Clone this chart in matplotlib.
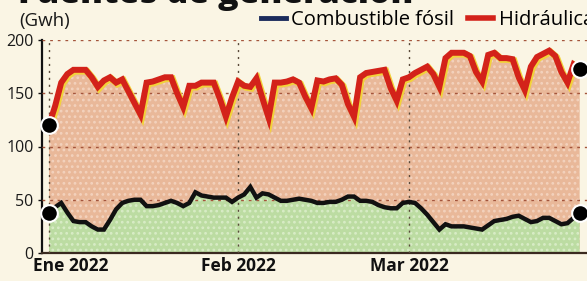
import matplotlib
matplotlib.use('Agg')
import matplotlib.pyplot as plt
from matplotlib.lines import Line2D
from matplotlib.transforms import offset_copy, ScaledTranslation
import pandas as pd

# daily generation, Jan 1 - Mar 29 2022 (GWh)
dates = pd.date_range('2022-01-01', periods=88, freq='D')
fosil = [38, 43, 47, 38, 30, 29, 29, 25, 22, 22,
         31, 41, 47, 49, 50, 50, 44, 44, 45, 47,
         49, 47, 44, 47, 57, 54, 53, 52, 52, 52,
         48, 52, 55, 62, 52, 56, 55, 52, 49, 49,
         50, 51, 50, 49, 47, 47, 48, 48, 50, 53,
         53, 49, 49, 48, 45, 43, 42, 42, 47, 48,
         47, 42, 36, 29, 22, 27, 25, 25, 25, 24,
         23, 22, 26, 30, 31, 32, 34, 35, 32, 29,
         30, 33, 33, 30, 27, 28, 33, 38]
hidraulica = [120, 138, 160, 168, 172, 172, 172, 165, 156, 162,
              165, 160, 163, 152, 141, 130, 160, 161, 163, 165,
              165, 150, 137, 157, 157, 160, 160, 160, 145, 128,
              146, 161, 157, 156, 164, 145, 127, 160, 160, 161,
              163, 160, 147, 136, 162, 161, 163, 164, 158, 140,
              128, 165, 169, 170, 171, 172, 155, 143, 163, 165,
              169, 172, 175, 168, 156, 183, 188, 188, 188, 185,
              170, 161, 186, 188, 183, 183, 182, 165, 153, 175,
              184, 187, 190, 185, 170, 160, 177, 173]
month_ticks = ['2022-01-01', '2022-02-01', '2022-03-01']
month_labels = ['Ene 2022', 'Feb 2022', 'Mar 2022']
yticks = [0, 50, 100, 150, 200]

bg = '#faf5e4'
plt.rcParams['font.family'] = ['Open Sans', 'DejaVu Sans']
plt.rcParams['hatch.linewidth'] = 1.2

fig = plt.figure(figsize=(5.87, 2.81), dpi=100, facecolor=bg)
ax = fig.add_axes([42/587, 28/281, 545/587, 213/281], facecolor=bg)

x = dates
# halftone-ish fills
ax.fill_between(x, 0, hidraulica, facecolor='#e9b899', edgecolor='#f3d2bd',
                hatch='...', lw=0, zorder=1)
ax.fill_between(x, 0, fosil, facecolor='#bcdca2', edgecolor='#d8ecc6',
                hatch='...', lw=0, zorder=2)

# grid
for v in yticks[1:]:
    ax.axhline(v, color='#a4553c', lw=1.0, ls=(0, (2, 3.5)), zorder=3)
for d in month_ticks:
    ax.axvline(pd.Timestamp(d), color='#5a4a3a', lw=1.0, ls=(0, (1.5, 3.5)), zorder=3)

# red line with yellow misregistration
shadow = offset_copy(ax.transData, fig=fig, x=1.3, y=-1.3, units='dots')
ax.plot(x, hidraulica, color='#f2d23a', lw=5, solid_joinstyle='miter',
        transform=shadow, zorder=4)
ax.plot(x, hidraulica, color='#d3221a', lw=4.3, solid_joinstyle='miter', zorder=5)
ax.plot(x, fosil, color='#111111', lw=3.2, solid_joinstyle='miter', zorder=5)

# end dots
for s in (hidraulica, fosil):
    ax.plot([x[0], x[-1]], [s[0], s[-1]], 'o', ms=12, mfc='black',
            mec='white', mew=1.5, zorder=6, clip_on=False)

ax.set_xlim(pd.Timestamp('2022-01-01') - pd.Timedelta(days=1.15),
            pd.Timestamp('2022-01-01') + pd.Timedelta(days=88.2))
ax.set_ylim(0, 200)

for s in ('top', 'right'):
    ax.spines[s].set_visible(False)
ax.spines['left'].set_color('#111111')
ax.spines['left'].set_linewidth(1.6)
ax.spines['bottom'].set_color('#3a2a20')
ax.spines['bottom'].set_linewidth(1.6)

ax.set_yticks(yticks)
ax.set_yticklabels([str(v) for v in yticks])
ax.tick_params(axis='y', length=3, width=1, color='#111111', labelsize=11.5,
               labelcolor='#1a1a1a', pad=3)
ax.set_xticks([pd.Timestamp(d) for d in month_ticks])
ax.set_xticklabels(month_labels, fontweight='bold')
ax.tick_params(axis='x', length=0, labelsize=12.5, labelcolor='#111111', pad=3)
first = ax.get_xticklabels()[0]
first.set_transform(first.get_transform() + ScaledTranslation(22/100, 0, fig.dpi_scale_trans))

# title cut at top, unit, legend
fig.text(18/587, 1 - 3/281, 'Fuentes de generación', fontsize=24.5, fontweight='heavy',
         color='#111111', va='baseline', ha='left')
fig.text(19/587, 1 - 21/281, '(Gwh)', fontsize=13.5, color='#1a1a1a', va='center', ha='left')

handles = [Line2D([], [], color='#1b2b5c', lw=3.5),
           Line2D([], [], color='#d3221a', lw=4)]
fig.legend(handles, ['Combustible fósil', 'Hidráulica'], ncol=2, frameon=False,
           loc='center left', bbox_to_anchor=(261/587, 1 - 20/281),
           fontsize=14.5, handlelength=1.25, handletextpad=0.25, columnspacing=0.7,
           borderaxespad=0, borderpad=0)

fig.savefig('out.png', dpi=100, facecolor=bg)
